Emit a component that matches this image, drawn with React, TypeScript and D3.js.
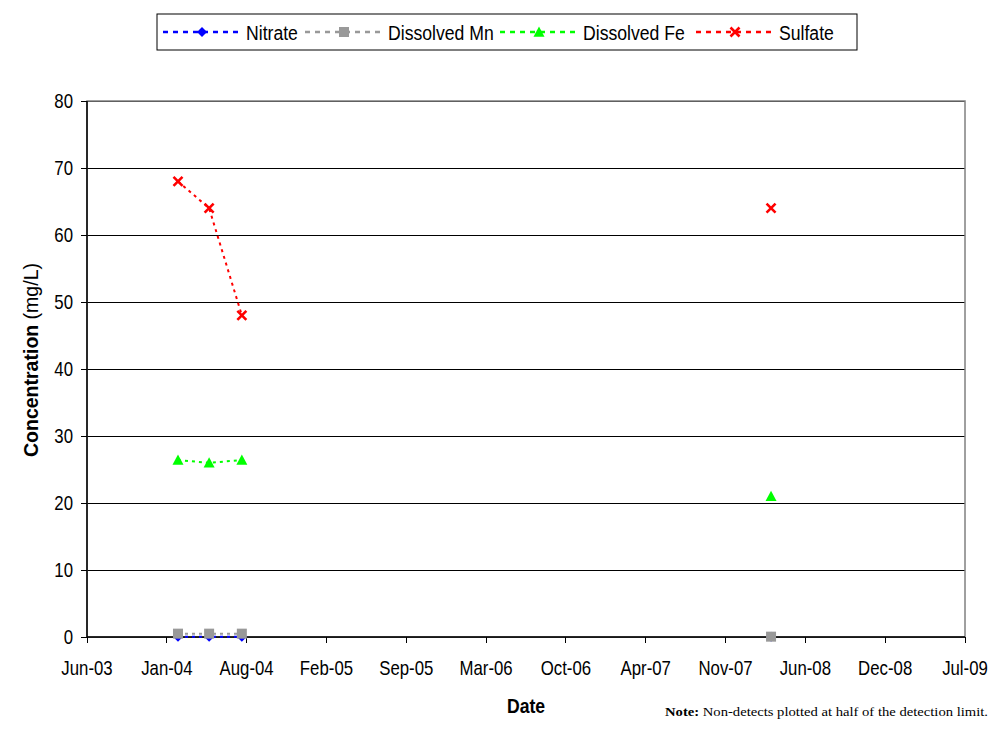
import React from "react";
import * as d3 from "d3";

const sampleDates = ["2004-02-11", "2004-04-29", "2004-07-20", "2008-03-07"];
const nitrate = [0.05, 0.05, 0.05, 0.05];
const dissolvedMn = [0.5, 0.5, 0.5, 0.05];
const dissolvedFe = [26.4, 26.0, 26.4, 21.0];
const sulfate = [68, 64, 48, 64];
// group id for line continuity (no line across data gap)
const segmentIds = [0, 0, 0, 1];

const xTickLabels = ["Jun-03", "Jan-04", "Aug-04", "Feb-05", "Sep-05", "Mar-06", "Oct-06", "Apr-07", "Nov-07", "Jun-08", "Dec-08", "Jul-09"];
const yTicks = [0, 10, 20, 30, 40, 50, 60, 70, 80];
const axisStart = "2003-06-28";
const tickStepDays = 200;

const seriesNames = ["Nitrate", "Dissolved Mn", "Dissolved Fe", "Sulfate"];
const seriesValues = [nitrate, dissolvedMn, dissolvedFe, sulfate];
const seriesColors = ["#0000ff", "#999999", "#00ff00", "#ff0000"];
const seriesMarkers = ["diamond", "square", "triangle", "x"];

const W = 996, H = 740;
const L = 87, R = 965, T = 101, B = 637;
const FONT = "'Liberation Sans', Arial, sans-serif";
const SX = 0.84;

const parse = d3.timeParse("%Y-%m-%d");
const DAY = 86400000;

function NText({ x, y, size, anchor = "start", bold = false, children }: any) {
  return (
    <text
      transform={`translate(${x},${y}) scale(${SX},1)`}
      dy="0.35em"
      textAnchor={anchor}
      fontSize={size}
      fontWeight={bold ? "bold" : "normal"}
    >
      {children}
    </text>
  );
}

function Marker({ type, x, y, color }: { type: string; x: number; y: number; color: string }) {
  if (type === "diamond") {
    const s = 5;
    return <path d={`M${x},${y - s}L${x + s},${y}L${x},${y + s}L${x - s},${y}Z`} fill={color} />;
  }
  if (type === "square") {
    const s = 5;
    return <rect x={x - s} y={y - s} width={2 * s} height={2 * s} fill={color} />;
  }
  if (type === "triangle") {
    const s = 5.5;
    return <path d={`M${x},${y - s}L${x + s},${y + s * 0.85}L${x - s},${y + s * 0.85}Z`} fill={color} />;
  }
  const s = 4.5;
  return (
    <path d={`M${x - s},${y - s}L${x + s},${y + s}M${x + s},${y - s}L${x - s},${y + s}`} stroke={color} strokeWidth={2.6} fill="none" />
  );
}

export default function App() {
  const start = parse(axisStart)!;
  const tickDates = xTickLabels.map((_, i) => new Date(start.getTime() + i * tickStepDays * DAY));
  const x = d3.scaleTime().domain([tickDates[0], tickDates[tickDates.length - 1]]).range([L, R]);
  const y = d3.scaleLinear().domain([0, 80]).range([B, T]);
  const dates = sampleDates.map((d) => parse(d)!);

  const legendX = [163, 305, 500, 696];

  return (
    <svg width={W} height={H} style={{ position: "absolute", left: 0, top: 0 }} fontFamily={FONT}>
      <rect x={0} y={0} width={W} height={H} fill="#fff" />
      {/* gridlines */}
      {yTicks.map((t) => (
        <line key={t} x1={L} x2={R} y1={y(t) + 0.5} y2={y(t) + 0.5} stroke="#000" strokeWidth={1} shapeRendering="crispEdges" />
      ))}
      {/* plot border */}
      <rect x={L} y={T} width={R - L} height={B - T} fill="none" stroke="#808080" strokeWidth={1.5} />
      {/* axes */}
      <line x1={L} x2={L} y1={T} y2={B} stroke="#000" strokeWidth={1.5} />
      <line x1={L} x2={R} y1={B} y2={B} stroke="#000" strokeWidth={1.5} />
      {yTicks.map((t) => (
        <g key={"yt" + t}>
          <line x1={L - 6} x2={L} y1={y(t) + 0.5} y2={y(t) + 0.5} stroke="#000" shapeRendering="crispEdges" />
          <NText x={L - 14} y={y(t)} size={20} anchor="end">{t}</NText>
        </g>
      ))}
      {tickDates.map((d, i) => (
        <g key={"xt" + i}>
          <line x1={x(d)} x2={x(d)} y1={B} y2={B + 6} stroke="#000" shapeRendering="crispEdges" />
          <NText x={x(d)} y={668} size={20} anchor="middle">{xTickLabels[i]}</NText>
        </g>
      ))}
      <NText x={526} y={706} size={21} anchor="middle" bold>Date</NText>
      <text
        transform={`translate(31,360) rotate(-90)`}
        textAnchor="middle"
        dy="0.35em"
        fontSize={21}
        textLength={194}
        lengthAdjust="spacingAndGlyphs"
      >
        <tspan fontWeight="bold">Concentration</tspan>
        <tspan> (mg/L)</tspan>
      </text>

      {/* series */}
      {seriesValues.map((vals, si) => {
        const pts = vals.map((v, i) => ({ d: dates[i], v, g: segmentIds[i] }));
        const groups = d3.groups(pts, (p) => p.g);
        const line = d3.line<{ d: Date; v: number }>().x((p) => x(p.d)).y((p) => y(p.v));
        return (
          <g key={si}>
            {groups.map(([g, ps]) =>
              ps.length > 1 ? (
                <path key={g} d={line(ps) || ""} fill="none" stroke={seriesColors[si]} strokeWidth={2} strokeDasharray="3,4" />
              ) : null
            )}
            {pts.map((p, i) => (
              <Marker key={i} type={seriesMarkers[si]} x={x(p.d)} y={y(p.v)} color={seriesColors[si]} />
            ))}
          </g>
        );
      })}

      {/* legend */}
      <rect x={157} y={14} width={700} height={36} fill="#fff" stroke="#000" strokeWidth={1} />
      {seriesNames.map((n, i) => (
        <g key={n}>
          <line x1={legendX[i]} x2={legendX[i] + 76} y1={32} y2={32} stroke={seriesColors[i]} strokeWidth={2.5} strokeDasharray="5,5" />
          <Marker type={seriesMarkers[i]} x={legendX[i] + 39} y={32} color={seriesColors[i]} />
          <NText x={legendX[i] + 83} y={33} size={21}>{n}</NText>
        </g>
      ))}

      <text
        x={988}
        y={716}
        textAnchor="end"
        fontSize={13}
        fontFamily="'Liberation Serif', 'DejaVu Serif', serif"
        textLength={323}
        lengthAdjust="spacingAndGlyphs"
      >
        <tspan fontWeight="bold">Note:</tspan>
        <tspan> Non-detects plotted at half of the detection limit.</tspan>
      </text>
    </svg>
  );
}
